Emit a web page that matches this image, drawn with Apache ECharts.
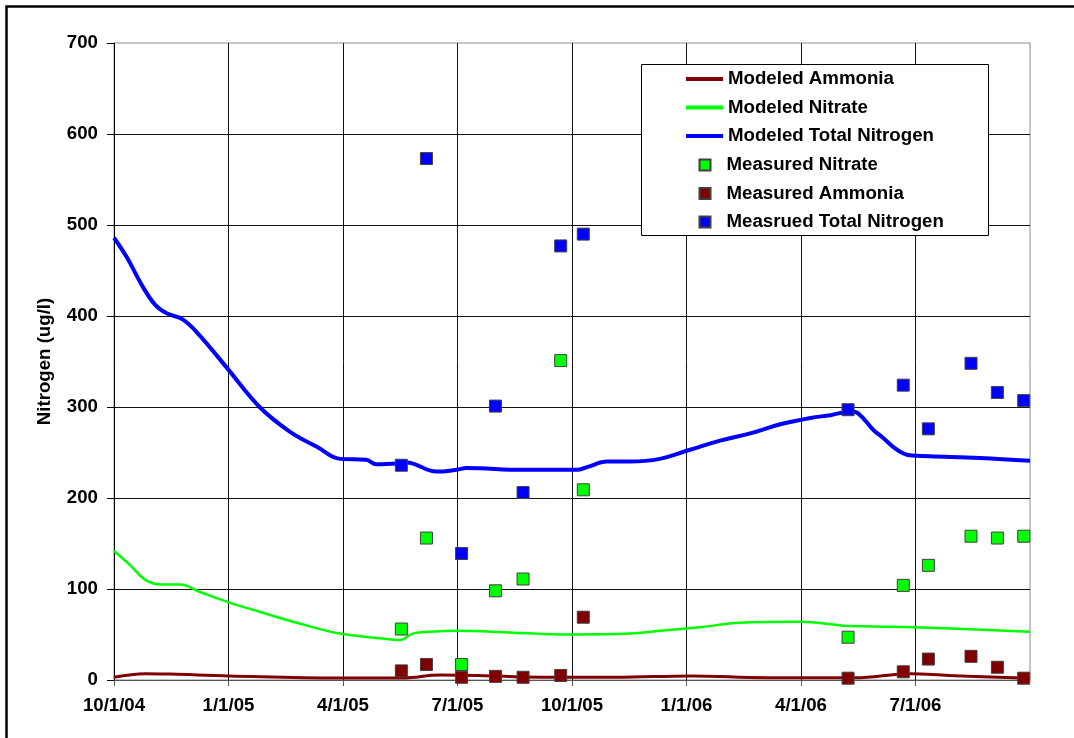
<!DOCTYPE html>
<html>
<head>
<meta charset="utf-8">
<script src="https://cdn.jsdelivr.net/npm/echarts@6/dist/echarts.min.js"></script>
<style>
  html, body { margin: 0; padding: 0; background: #fff; }
  #chart { width: 1074px; height: 738px; }
</style>
</head>
<body>
<div id="chart"></div>
<script>
// ---- Data ----
const startDate = '2004-10-01';
const xTickLabels = ['10/1/04', '1/1/05', '4/1/05', '7/1/05', '10/1/05', '1/1/06', '4/1/06', '7/1/06', '10/1/06'];

// Modeled curves: day offset from 10/1/04 and value (ug/l)
const modeledTNDays = [0, 10, 23, 33, 42, 55, 68, 90, 116, 140, 162, 180, 201, 209, 228, 233, 257, 273, 281, 326, 369, 377, 393, 411, 435, 459, 483, 507, 531, 555, 571, 587, 593, 605, 613, 624, 634, 650, 690, 730];
const modeledTNVals = [486, 465, 432, 412, 403, 396, 379, 343, 300, 273, 256, 243, 242, 237, 238, 239, 229, 231, 233, 231, 231, 234, 240, 240, 243, 253, 263, 271, 281, 288, 291, 295, 293, 275, 266, 253, 247, 246, 244, 241];

const modeledNitrateDays = [0, 13, 25, 37, 53, 68, 92, 116, 148, 180, 212, 228, 238, 252, 273, 318, 363, 411, 435, 467, 499, 547, 579, 597, 637, 730];
const modeledNitrateVals = [142, 126, 110, 105, 105, 97, 85, 75, 62, 51, 46, 44, 51, 53, 54, 52, 50, 51, 54, 58, 63, 64, 60, 59, 58, 53];

const modeledAmmoniaDays = [0, 25, 45, 92, 180, 230, 260, 290, 340, 400, 460, 520, 590, 635, 665, 730];
const modeledAmmoniaVals = [3, 7, 6.5, 4.5, 2.3, 2.3, 5.5, 5, 3, 3, 4.5, 2.5, 2.5, 7, 5, 2];

// Measured samples
const sampleDates = ['2005-05-18', '2005-06-07', '2005-07-05', '2005-08-01', '2005-08-23', '2005-09-22', '2005-10-10',
                     '2006-05-09', '2006-06-22', '2006-07-12', '2006-08-15', '2006-09-05', '2006-09-26'];
const measuredTN      = [236, 573, 139, 301, 206, 477, 490, 297, 324, 276, 348, 316, 307];
const measuredNitrate = [56, 156, 17, 98, 111, 351, 209, 47, 104, 126, 158, 156, 158];
const measuredAmmonia = [10, 17, 3, 4, 3, 5, 69, 2, 9, 23, 26, 14, 2];

// ---- Build ----
function dayOffset(s) {
  const a = new Date(startDate + 'T00:00:00Z').getTime();
  const b = new Date(s + 'T00:00:00Z').getTime();
  return Math.round((b - a) / 86400000);
}
const sampleDays = sampleDates.map(dayOffset);
const zip = (xs, ys) => xs.map((x, i) => [x, ys[i]]);

const FONT = 'Liberation Sans, Arial, sans-serif';
const FS = 18.67;
const quarter = 730 / 8;

const chart = echarts.init(document.getElementById('chart'), null, { renderer: 'canvas' });

const squareStyle = (c) => ({ color: c, borderColor: '#404040', borderWidth: 1, opacity: 1 });
const legendText = { color: '#000', fontWeight: 'bold', fontSize: FS, fontFamily: FONT, lineHeight: 20 };

chart.setOption({
  animation: false,
  backgroundColor: '#fff',
  textStyle: { fontFamily: FONT },
  grid: {
    left: 114, right: 44, top: 43, bottom: 58,
    show: true, borderColor: '#8a8a8a', borderWidth: 1, backgroundColor: 'transparent'
  },
  xAxis: {
    type: 'value', min: 0, max: 730, interval: quarter,
    axisLine: { show: true, lineStyle: { color: '#555', width: 1 } },
    axisTick: { show: true, length: 6, lineStyle: { color: '#555' } },
    axisLabel: {
      margin: 16, color: '#000', fontWeight: 'bold', fontSize: FS, fontFamily: FONT,
      showMaxLabel: false,
      formatter: (v) => xTickLabels[Math.round(v / quarter)] || ''
    },
    splitLine: { show: true, showMaxLine: false, lineStyle: { color: '#111', width: 1 } }
  },
  yAxis: {
    type: 'value', min: 0, max: 700, interval: 100,
    name: 'Nitrogen (ug/l)', nameLocation: 'middle', nameRotate: 90, nameGap: 60,
    nameTextStyle: { color: '#000', fontWeight: 'bold', fontSize: FS, fontFamily: FONT },
    axisLine: { show: true, lineStyle: { color: '#000', width: 1 } },
    axisTick: { show: true, length: 7, lineStyle: { color: '#000' } },
    axisLabel: { margin: 16, color: '#000', fontWeight: 'bold', fontSize: FS, fontFamily: FONT },
    splitLine: { show: true, showMaxLine: false, lineStyle: { color: '#111', width: 1 } }
  },
  legend: [
    {
      data: [
        { name: 'Modeled Ammonia', icon: 'rect' },
        { name: 'Modeled Nitrate', icon: 'rect' },
        { name: 'Modeled Total Nitrogen', icon: 'rect' }
      ],
      orient: 'vertical', left: 681, top: 64,
      itemWidth: 37, itemHeight: 4, itemGap: 8.5,
      textStyle: legendText,
      selectedMode: false
    },
    {
      data: ['Measured Nitrate', 'Measured Ammonia', 'Measrued Total Nitrogen'],
      orient: 'vertical', left: 693.5, top: 150,
      itemWidth: 11, itemHeight: 11, itemGap: 8.5,
      textStyle: Object.assign({}, legendText, { padding: [0, 0, 0, 11] }),
      selectedMode: false
    }
  ],
  graphic: [
    { type: 'rect', z: 3, shape: { x: 641.5, y: 64.5, width: 347, height: 171 },
      style: { fill: '#fff', stroke: '#000', lineWidth: 1 } },
    { type: 'rect', z: 10, shape: { x: 6.5, y: 6.5, width: 1200, height: 900 },
      style: { fill: 'none', stroke: '#000', lineWidth: 2.5 } }
  ],
  series: [
    { name: 'Modeled Ammonia', type: 'line', smooth: 0.4, symbol: 'none',
      data: zip(modeledAmmoniaDays, modeledAmmoniaVals),
      lineStyle: { color: '#800000', width: 3 }, itemStyle: { color: '#800000' }, z: 2 },
    { name: 'Modeled Nitrate', type: 'line', smooth: 0.4, symbol: 'none',
      data: zip(modeledNitrateDays, modeledNitrateVals),
      lineStyle: { color: '#00ff00', width: 2.5 }, itemStyle: { color: '#00ff00' }, z: 2 },
    { name: 'Modeled Total Nitrogen', type: 'line', smooth: 0.4, symbol: 'none',
      data: zip(modeledTNDays, modeledTNVals),
      lineStyle: { color: '#0000ff', width: 4 }, itemStyle: { color: '#0000ff' }, z: 2 },
    { name: 'Measured Nitrate', type: 'scatter', symbol: 'rect', symbolSize: 12,
      data: zip(sampleDays, measuredNitrate), itemStyle: squareStyle('#00ff00'), z: 3 },
    { name: 'Measured Ammonia', type: 'scatter', symbol: 'rect', symbolSize: 12,
      data: zip(sampleDays, measuredAmmonia), itemStyle: squareStyle('#800000'), z: 3 },
    { name: 'Measrued Total Nitrogen', type: 'scatter', symbol: 'rect', symbolSize: 12,
      data: zip(sampleDays, measuredTN), itemStyle: squareStyle('#0000ff'), z: 3 }
  ]
});
</script>
</body>
</html>
